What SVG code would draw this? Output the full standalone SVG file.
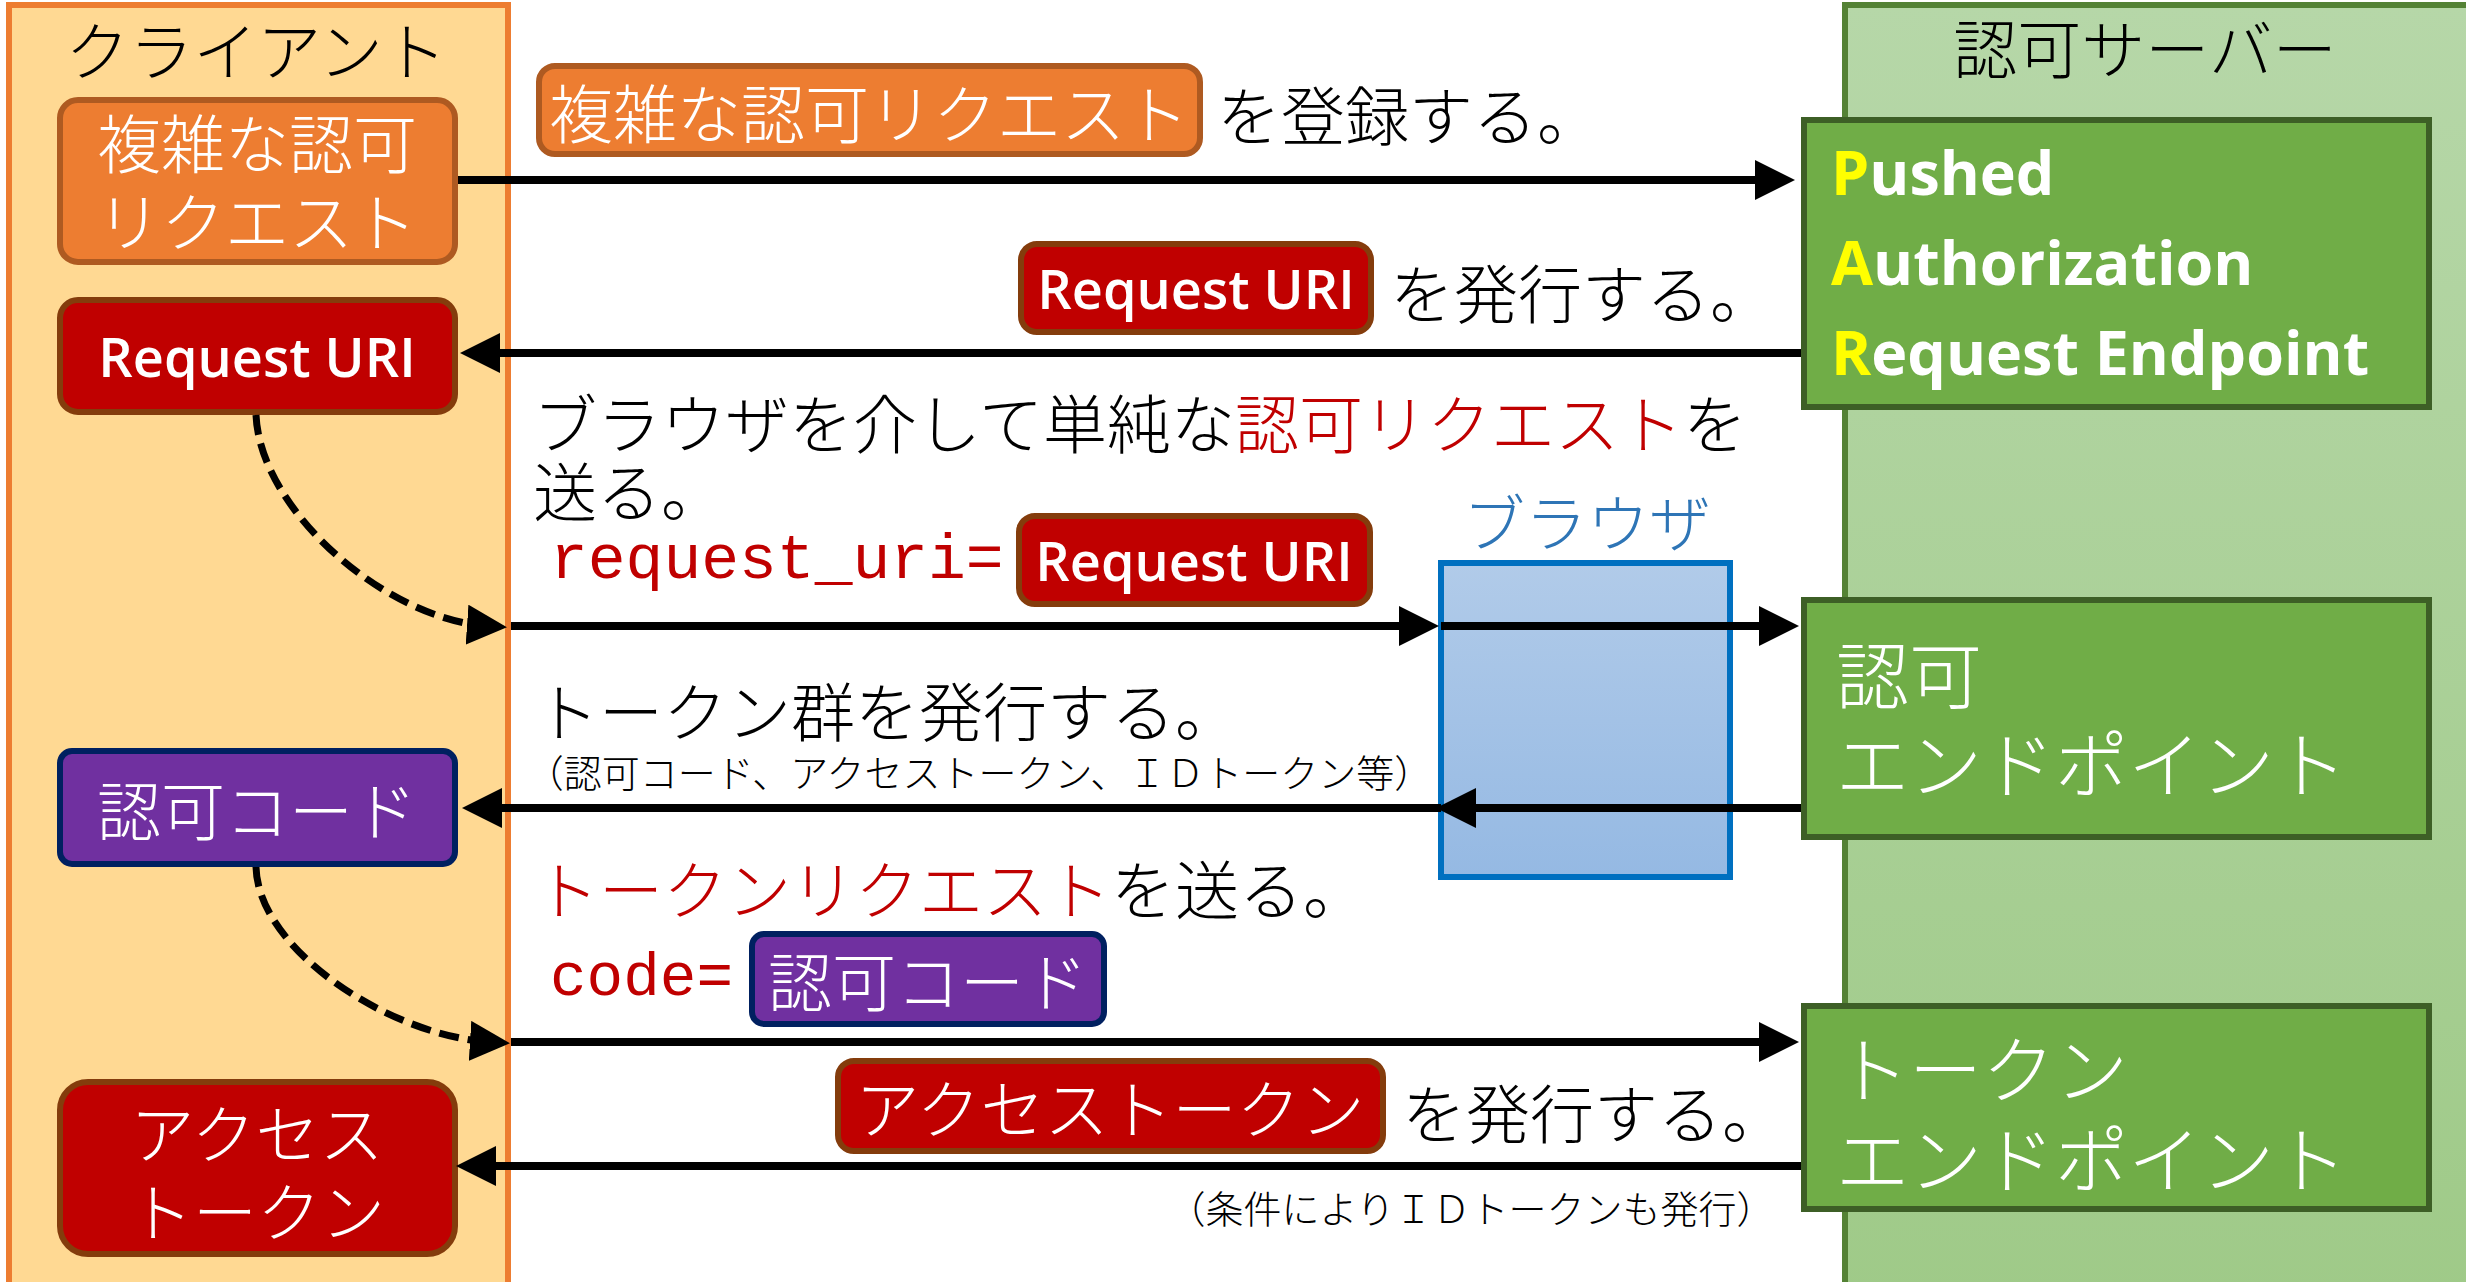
<svg xmlns="http://www.w3.org/2000/svg" width="2466" height="1282" viewBox="0 0 2466 1282">
<defs>
<linearGradient id="gSrv" x1="0" y1="0" x2="0" y2="1"><stop offset="0" stop-color="#B6D7A8"/><stop offset="1" stop-color="#9FCA88"/></linearGradient>
<linearGradient id="gBrw" x1="0" y1="0" x2="0" y2="1"><stop offset="0" stop-color="#B1CBE9"/><stop offset="1" stop-color="#95B9E3"/></linearGradient>
<marker id="ah" viewBox="0 0 40 40" refX="20" refY="20" markerWidth="40" markerHeight="40" markerUnits="userSpaceOnUse" orient="auto"><path d="M0,0 L40,20 L0,40 Z" fill="#000"/></marker>
</defs>
<style>
.jp{font-family:"Noto Sans CJK JP","Noto Sans",sans-serif;font-weight:300;dominant-baseline:central}
.lat{font-family:"Open Sans","Liberation Sans",sans-serif}
.mono{font-family:"Liberation Mono","DejaVu Sans Mono",monospace;fill:#C00000}
.w{fill:#FFFFFF}
.k{fill:#000000}
.r{fill:#C00000}
.orange{fill:#ED7D31;stroke:#AE5A21;stroke-width:6}
.red{fill:#C00000;stroke:#843C0C;stroke-width:6}
.purple{fill:#7030A0;stroke:#002060;stroke-width:6}
.ep{fill:#70AD47;stroke:#3D5F26;stroke-width:6}
.ln{stroke:#000;stroke-width:8;fill:none;marker-end:url(#ah)}
.dash{stroke:#000;stroke-width:7;fill:none;stroke-dasharray:20 9;marker-end:url(#ah)}
</style>
<rect width="2466" height="1282" fill="#FFFFFF"/>

<g id="client-lane">
<rect x="9" y="5" width="499" height="1300" fill="#FFD993" stroke="#ED7D31" stroke-width="6"/>
<text class="jp k" x="256" y="47" font-size="64" text-anchor="middle">クライアント</text>
</g>
<g id="server-lane">
<rect x="1845" y="5" width="700" height="1300" fill="url(#gSrv)" stroke="#548235" stroke-width="6"/>
<text class="jp k" x="2145" y="45" font-size="64" text-anchor="middle">認可サーバー</text>
</g>

<g id="browser">
<text class="jp" x="1587" y="520" font-size="62" text-anchor="middle" fill="#2E75B6">ブラウザ</text>
<rect x="1441" y="563" width="289" height="314" fill="url(#gBrw)" stroke="#0070C0" stroke-width="6"/>
</g>

<g id="client-complex-request">
<rect class="orange" x="60" y="100" width="395" height="162" rx="18"/>
<text class="jp w" x="257" y="140" font-size="64" text-anchor="middle">複雑な認可</text>
<text class="jp w" x="257" y="218" font-size="64" text-anchor="middle">リクエスト</text>
</g>
<g id="client-request-uri">
<rect class="red" x="60" y="300" width="395" height="112" rx="18"/>
<text class="lat w" x="257" y="377" font-size="54" font-weight="600" text-anchor="middle">Request URI</text>
</g>
<g id="client-auth-code">
<rect class="purple" x="60" y="751" width="395" height="113" rx="12"/>
<text class="jp w" x="257" y="807" font-size="64" text-anchor="middle">認可コード</text>
</g>
<g id="client-access-token">
<rect class="red" x="60" y="1082" width="395" height="172" rx="28"/>
<text class="jp w" x="257" y="1130" font-size="64" text-anchor="middle">アクセス</text>
<text class="jp w" x="257" y="1208" font-size="64" text-anchor="middle">トークン</text>
</g>

<g id="par-endpoint">
<rect class="ep" x="1804" y="120" width="625" height="287"/>
<text class="lat w" x="1831" y="195" font-size="61" font-weight="bold"><tspan fill="#FFFF00">P</tspan>ushed</text>
<text class="lat w" x="1831" y="285" font-size="61" font-weight="bold"><tspan fill="#FFFF00">A</tspan>uthorization</text>
<text class="lat w" x="1831" y="375" font-size="61" font-weight="bold"><tspan fill="#FFFF00">R</tspan>equest Endpoint</text>
</g>
<g id="authorization-endpoint">
<rect class="ep" x="1804" y="600" width="625" height="237"/>
<text class="jp w" x="1836" y="671" font-size="73">認可</text>
<text class="jp w" x="1836" y="760" font-size="73">エンドポイント</text>
</g>
<g id="token-endpoint">
<rect class="ep" x="1804" y="1006" width="625" height="203"/>
<text class="jp w" x="1836" y="1065" font-size="73">トークン</text>
<text class="jp w" x="1836" y="1155" font-size="73">エンドポイント</text>
</g>

<g id="label-register">
<rect class="orange" x="539" y="66" width="661" height="88" rx="16"/>
<text class="jp w" x="869" y="110" font-size="64" text-anchor="middle">複雑な認可リクエスト</text>
<text class="jp k" x="1217" y="112" font-size="64">を登録する。</text>
</g>
<g id="label-issue-uri">
<rect class="red" x="1021" y="244" width="350" height="88" rx="16"/>
<text class="lat w" x="1196" y="309" font-size="54" font-weight="600" text-anchor="middle">Request URI</text>
<text class="jp k" x="1390" y="290" font-size="64">を発行する。</text>
</g>
<g id="label-send-auth">
<text class="jp k" x="533" y="420" font-size="64">ブラウザを介して単純な<tspan class="r">認可リクエスト</tspan>を</text>
<text class="jp k" x="533" y="488" font-size="64">送る。</text>
<text class="mono" x="550" y="578" font-size="63">request_uri=</text>
<rect class="red" x="1019" y="516" width="351" height="88" rx="16"/>
<text class="lat w" x="1194" y="581" font-size="54" font-weight="600" text-anchor="middle">Request URI</text>
</g>
<g id="label-issue-tokens">
<text class="jp k" x="535" y="708" font-size="64">トークン群を発行する。</text>
<text class="jp k" x="979" y="770" font-size="38" text-anchor="middle">（認可コード、アクセストークン、ＩＤトークン等）</text>
</g>
<g id="label-token-request">
<text class="jp r" x="535" y="886" font-size="64">トークンリクエスト<tspan class="k">を送る。</tspan></text>
<text class="mono" x="550" y="995" font-size="61">code=</text>
<rect class="purple" x="752" y="934" width="352" height="90" rx="12"/>
<text class="jp w" x="928" y="978" font-size="64" text-anchor="middle">認可コード</text>
</g>
<g id="label-issue-access">
<rect class="red" x="838" y="1061" width="545" height="90" rx="16"/>
<text class="jp w" x="1110" y="1105" font-size="64" text-anchor="middle">アクセストークン</text>
<text class="jp k" x="1402" y="1110" font-size="64">を発行する。</text>
<text class="jp k" x="1471" y="1206" font-size="38" text-anchor="middle">（条件によりＩＤトークンも発行）</text>
</g>

<g id="connectors">
<line class="ln" x1="458" y1="180" x2="1775" y2="180"/>
<line class="ln" x1="1801" y1="353" x2="480" y2="353"/>
<path class="dash" d="M256,415 C260,510 385,619 487,626"/>
<line class="ln" x1="511" y1="626" x2="1419" y2="626"/>
<line class="ln" x1="1441" y1="626" x2="1779" y2="626"/>
<line class="ln" x1="1801" y1="808" x2="1456" y2="808"/>
<line class="ln" x1="1441" y1="808" x2="482" y2="808"/>
<path class="dash" d="M256,867 C258,950 390,1036 490,1042"/>
<line class="ln" x1="511" y1="1042" x2="1779" y2="1042"/>
<line class="ln" x1="1801" y1="1166" x2="476" y2="1166"/>
</g>
</svg>
